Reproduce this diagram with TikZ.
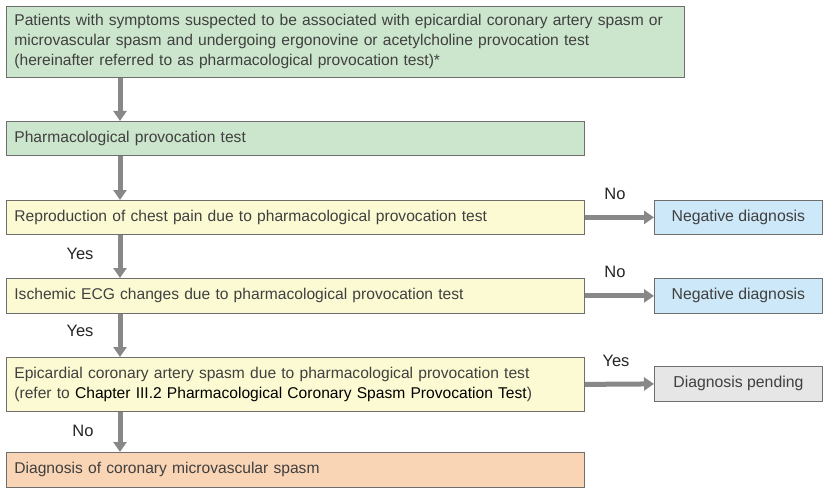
\documentclass[tikz,border=0pt]{standalone}
\usepackage{fontspec}
\setmainfont{Liberation Sans}
\usetikzlibrary{arrows.meta}
\definecolor{bgreen}{HTML}{CCE5CD}
\definecolor{byellow}{HTML}{FCFAD2}
\definecolor{bblue}{HTML}{CDE8F8}
\definecolor{bgray}{HTML}{E6E6E6}
\definecolor{bpeach}{HTML}{F9D4B5}
\definecolor{bline}{HTML}{6E6E6E}
\definecolor{txt}{HTML}{404040}
\definecolor{arrc}{HTML}{888888}
\tikzset{
  box/.style={draw=bline, line width=0.8pt, rectangle, anchor=north west,
    inner xsep=8pt, inner ysep=0pt, align=left, font=\fontsize{15.6}{20}\selectfont,
    text=txt},
  sidebox/.style={draw=bline, line width=0.8pt, rectangle, anchor=north west,
    minimum width=168pt, minimum height=34pt, inner sep=0pt,
    font=\fontsize{15.8}{20}\selectfont, text=txt},
  lbl/.style={font=\fontsize{16.5}{18}\selectfont, text=black!85, inner sep=0pt},
  arr/.style={draw=arrc, line width=5pt, -{Triangle[length=10pt, width=13pt]}},
}
\begin{document}
\begin{tikzpicture}[x=1pt, y=-1pt]
\useasboundingbox (0,0) rectangle (829,492);
\fill[white] (0,0) rectangle (829,492);
\node[box, fill=bgreen, text width=662pt, minimum height=71pt] (b1) at (6,6)
  {Patients with symptoms suspected to be associated with epicardial coronary artery spasm or\\
   microvascular spasm and undergoing ergonovine or acetylcholine provocation test\\
   (hereinafter referred to as pharmacological provocation test)*};
\node[box, fill=bgreen, text width=562pt, minimum height=34pt] (b2) at (6,121)
  {Pharmacological provocation test};
\node[box, fill=byellow, text width=562pt, minimum height=34pt] (b3) at (6,200)
  {Reproduction of chest pain due to pharmacological provocation test};
\node[box, fill=byellow, text width=562pt, minimum height=35pt] (b4) at (6,278)
  {Ischemic ECG changes due to pharmacological provocation test};
\node[box, fill=byellow, text width=562pt, minimum height=54pt] (b5) at (6,357)
  {Epicardial coronary artery spasm due to pharmacological provocation test\\
   (refer to \textcolor{black}{Chapter III.2 Pharmacological Coronary Spasm Provocation Test})};
\node[box, fill=bpeach, text width=562pt, minimum height=35pt] (b6) at (6,452)
  {Diagnosis of coronary microvascular spasm};
\node[sidebox, fill=bblue] (n1) at (654,200) {Negative diagnosis};
\node[sidebox, fill=bblue, minimum height=35pt] (n2) at (654,278) {Negative diagnosis};
\node[sidebox, fill=bgray, minimum height=35pt] (p1) at (654,366) {Diagnosis pending};
\coordinate (ax) at (120,0);
\draw[arr] (b1.south -| ax) -- (b2.north -| ax);
\draw[arr] (b2.south -| ax) -- (b3.north -| ax);
\draw[arr] (b3.south -| ax) -- (b4.north -| ax);
\draw[arr] (b4.south -| ax) -- (b5.north -| ax);
\draw[arr] (b5.south -| ax) -- (b6.north -| ax);
\draw[arr] (b3.east) -- (n1.west);
\draw[arr] (b4.east) -- (n2.west);
\draw[arr] (b5.east) -- (p1.west);
\node[lbl] (l1) at (615,194) {No};
\node[lbl] (l2) at (615,272) {No};
\node[lbl] (l3) at (616,361) {Yes};
\node[lbl] (l4) at (80,254) {Yes};
\node[lbl] (l5) at (80,331) {Yes};
\node[lbl] (l6) at (83,431) {No};
\end{tikzpicture}
\end{document}
